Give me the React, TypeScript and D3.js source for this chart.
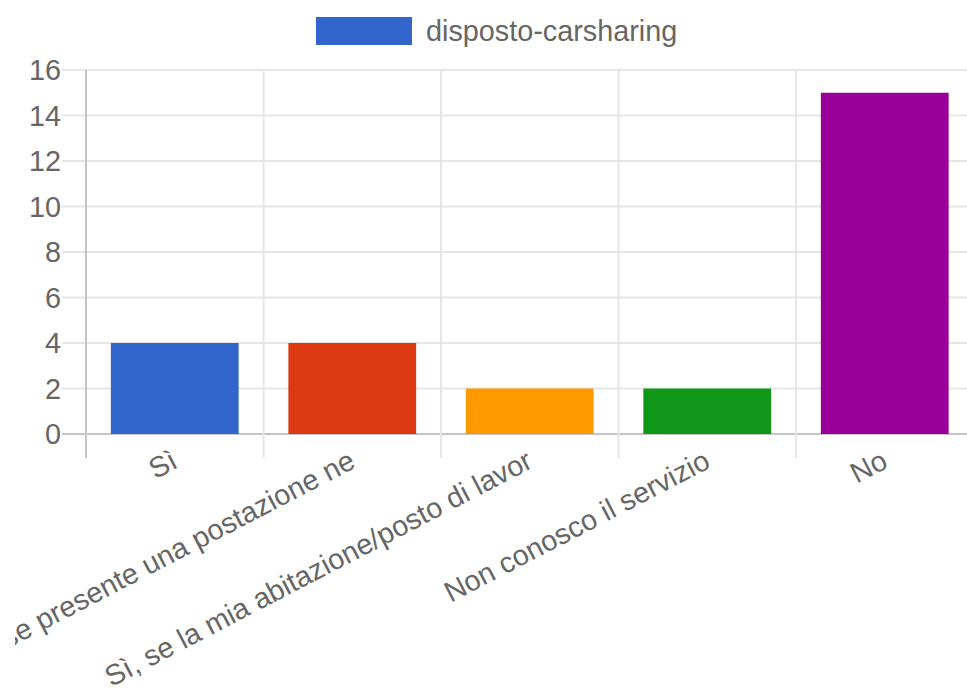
import React from "react";
import * as d3 from "d3";

const categories = [
  "Sì",
  "Sì, se fosse presente una postazione ne",
  "Sì, se la mia abitazione/posto di lavor",
  "Non conosco il servizio",
  "No",
];
const values = [4, 4, 2, 2, 15];
const barColors = ["#3366cc", "#dc3912", "#ff9900", "#109618", "#990099"];
const yTicks = [0, 2, 4, 6, 8, 10, 12, 14, 16];
const seriesName = "disposto-carsharing";

const W = 967;
const H = 693;
const FONT = "'Liberation Sans', Arial, Helvetica, sans-serif";
const FS = 28.8;

export default function App() {
  const left = 86;
  const right = 973.5;
  const top = 70;
  const bottom = 434;
  const tickLen = 24;

  const x = d3
    .scaleBand<string>()
    .domain(categories)
    .range([left, right])
    .paddingInner(0.28)
    .paddingOuter(0.14);
  const step = x.step();
  const y = d3.scaleLinear().domain([0, 16]).range([bottom, top]);

  const gridColor = "#e6e6e6";
  const axisColor = "#c4c4c4";

  return (
    <svg
      width={W}
      height={H}
      style={{ position: "absolute", left: 0, top: 0, display: "block" }}
      fontFamily={FONT}
    >
      <defs>
        <clipPath id="xlabclip">
          <rect x={15} y={0} width={W - 15} height={H} />
        </clipPath>
      </defs>
      <rect width={W} height={H} fill="#fff" />
      {/* legend */}
      <rect x={316} y={17} width={96} height={28} fill={barColors[0]} />
      <text x={426} y={31} dominantBaseline="central" fontSize={FS} fill="#666">
        {seriesName}
      </text>

      {/* horizontal grid */}
      {yTicks.map((t) => (
        <g key={"y" + t}>
          <line
            x1={left - tickLen}
            x2={right}
            y1={y(t)}
            y2={y(t)}
            stroke={t === 0 ? axisColor : gridColor}
            strokeWidth={2}
          />
          <text
            x={61}
            y={y(t)}
            textAnchor="end"
            dominantBaseline="central"
            fontSize={FS}
            fill="#666"
          >
            {t}
          </text>
        </g>
      ))}

      {/* vertical grid */}
      {categories.map((c, i) => {
        const gx = left + i * step;
        return (
          <line
            key={"v" + i}
            x1={gx}
            x2={gx}
            y1={top}
            y2={bottom + tickLen}
            stroke={i === 0 ? axisColor : gridColor}
            strokeWidth={2}
          />
        );
      })}

      {/* bars */}
      {categories.map((c, i) => (
        <rect
          key={"b" + i}
          x={x(c)!}
          y={y(values[i])}
          width={x.bandwidth()}
          height={bottom - y(values[i])}
          fill={barColors[i]}
        />
      ))}

      {/* x labels */}
      <g clipPath="url(#xlabclip)">
        {categories.map((c, i) => {
          const cx = x(c)! + x.bandwidth() / 2;
          return (
            <text
              key={"l" + i}
              transform={`translate(${cx},${bottom + 24}) rotate(-27.5)`}
              textAnchor="end"
              dominantBaseline="central"
              fontSize={FS}
              fill="#666"
            >
              {c}
            </text>
          );
        })}
      </g>
    </svg>
  );
}
